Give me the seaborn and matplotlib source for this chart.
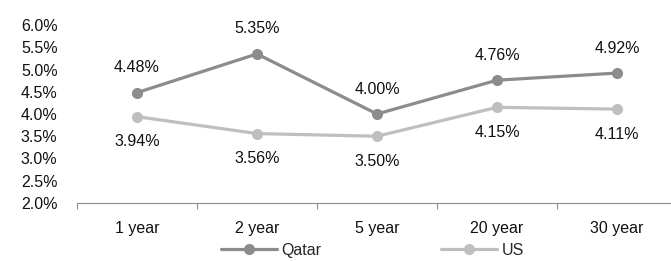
import pandas as pd
import seaborn as sns
import matplotlib.pyplot as plt
from matplotlib.ticker import FuncFormatter

tenors = ['1 year', '2 year', '5 year', '20 year', '30 year']
qatar = [4.48, 5.35, 4.00, 4.76, 4.92]
us = [3.94, 3.56, 3.50, 4.15, 4.11]

df = pd.DataFrame({
    'tenor': tenors * 2,
    'yield': qatar + us,
    'country': ['Qatar'] * len(tenors) + ['US'] * len(tenors),
})

sns.set_theme(style='white')
plt.rcParams['font.family'] = ['Liberation Sans', 'DejaVu Sans']

fig = plt.figure(figsize=(6.71, 2.61), dpi=100)
ax = fig.add_axes([77 / 671, 58 / 261, 600 / 671, 178 / 261])

pal = {'Qatar': '#8c8c8c', 'US': '#bfbfbf'}
sns.lineplot(data=df, x='tenor', y='yield', hue='country', palette=pal,
             marker='o', markersize=8, markeredgewidth=0, linewidth=2.3,
             ax=ax, legend=False, sort=False)

fs = 11.5
# data labels
for i, v in enumerate(qatar):
    ax.annotate(f'{v:.2f}%', (i, v), xytext=(0, 18), textcoords='offset points',
                ha='center', va='center', fontsize=fs, color='#111111')
for i, v in enumerate(us):
    ax.annotate(f'{v:.2f}%', (i, v), xytext=(0, -18), textcoords='offset points',
                ha='center', va='center', fontsize=fs, color='#111111')

ax.set_xlim(-0.5, 4.5)
ax.set_ylim(2.0, 6.0)
ax.set_yticks([2.0, 2.5, 3.0, 3.5, 4.0, 4.5, 5.0, 5.5, 6.0])
ax.yaxis.set_major_formatter(FuncFormatter(lambda v, p: f'{v:.1f}%'))
ax.set_xticks(range(len(tenors)))
ax.set_xticklabels(tenors)
ax.set_xticks([i - 0.5 for i in range(len(tenors) + 1)], minor=True)
ax.tick_params(axis='x', which='both', bottom=True)
ax.tick_params(axis='x', which='major', length=0, pad=13, labelsize=fs, colors='#111111')
ax.tick_params(axis='x', which='minor', length=4, width=0.8, color='#8c8c8c', direction='out')
ax.tick_params(axis='y', length=0, pad=14, labelsize=fs, colors='#111111')
ax.set_xlabel('')
ax.set_ylabel('')
for s in ['top', 'right', 'left']:
    ax.spines[s].set_visible(False)
ax.spines['bottom'].set_color('#8c8c8c')
ax.spines['bottom'].set_linewidth(0.8)

handles = [plt.Line2D([], [], color=pal[c], marker='o', markersize=8,
                      markeredgewidth=0, linewidth=2.3) for c in ['Qatar', 'US']]
fig.legend(handles, ['Qatar', 'US'], loc='center', bbox_to_anchor=(0.555, 0.04),
           ncol=2, frameon=False, fontsize=fs, handlelength=3.5,
           handletextpad=0.3, columnspacing=7.5)

fig.savefig('out.png', dpi=100)
